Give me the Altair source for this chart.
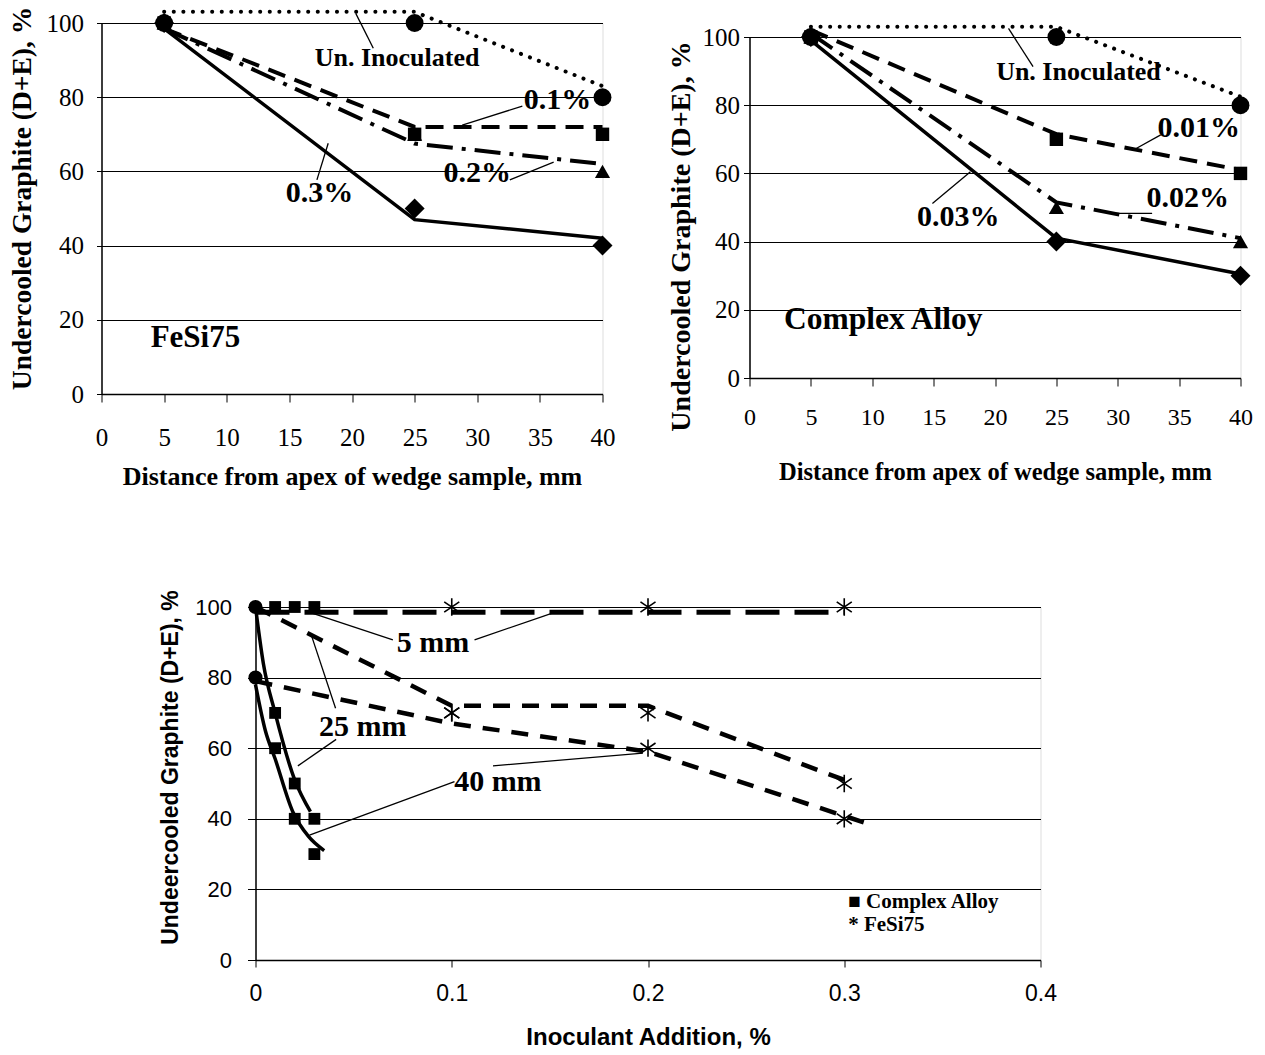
import altair as alt
import pandas as pd

SERIF = "Liberation Serif"
SANS = "Liberation Sans"
NARROW = "'Liberation Sans Narrow', 'Liberation Sans', sans-serif"

# ---------------- top panels: distance from apex (mm) ----------------
DIST = [5, 25, 40]
DIST_TICKS = [0, 5, 10, 15, 20, 25, 30, 35, 40]
PCT_TICKS = [0, 20, 40, 60, 80, 100]

# FeSi75 markers
FESI_UNINOC = [100, 100, 80]
FESI_01 = [100, 70, 70]
FESI_02 = [100, 70, 60]
FESI_03 = [100, 50, 40]
# FeSi75 lines as drawn
FESI_UNINOC_LINE = [103, 103, 83]
FESI_01_LINE = [98.5, 72, 72]
FESI_02_LINE = [98.5, 67.5, 62]
FESI_03_LINE = [98.5, 47, 42]

# Complex Alloy markers
CA_UNINOC = [100, 100, 80]
CA_001 = [100, 70, 60]
CA_002 = [100, 50, 40]
CA_003 = [100, 40, 30]
# Complex Alloy lines as drawn
CA_UNINOC_LINE = [103, 103, 82.5]
CA_001_LINE = [102, 71.5, 61]
CA_002_LINE = [101, 51.5, 41]
CA_003_LINE = [99, 41, 30.5]

# top-left annotations
TL_UN_TEXT = ["Un. Inoculated"]; TL_UN_X = [23.6]; TL_UN_Y = [90.6]
TL_PCT_TEXT = ["0.1%", "0.2%", "0.3%"]; TL_PCT_X = [36.4, 30.0, 17.4]; TL_PCT_Y = [79.2, 59.5, 54.2]
TL_NAME_TEXT = ["FeSi75"]; TL_NAME_X = [7.5]; TL_NAME_Y = [15.1]
TL_LEAD_X = [20.3, 28.8, 32.6, 17.2]
TL_LEAD_Y = [102.6, 72.5, 57.7, 57.7]
TL_LEAD_X2 = [21.7, 33.6, 36.1, 18.1]
TL_LEAD_Y2 = [93.2, 77.6, 62.5, 67.6]

# top-right annotations
TR_UN_TEXT = ["Un. Inoculated"]; TR_UN_X = [26.8]; TR_UN_Y = [89.8]
TR_PCT_TEXT = ["0.01%", "0.02%", "0.03%"]; TR_PCT_X = [36.6, 35.7, 17.0]; TR_PCT_Y = [73.2, 52.7, 47.3]
TR_NAME_TEXT = ["Complex Alloy"]; TR_NAME_X = [10.9]; TR_NAME_Y = [17.0]
TR_LEAD_X = [21.1, 31.5, 29.2, 14.9]
TR_LEAD_Y = [102.5, 67.3, 48.3, 51.2]
TR_LEAD_X2 = [23.1, 33.5, 32.8, 18.0]
TR_LEAD_Y2 = [91.3, 71.3, 48.3, 60.5]

# ---------------- bottom panel: inoculant addition (%) ----------------
ADD_TICKS = [0, 0.1, 0.2, 0.3, 0.4]
ADD_CA = [0.01, 0.02, 0.03]
ADD_FESI = [0.1, 0.2, 0.3]
CA_5MM = [100, 100, 100]
CA_25MM = [70, 50, 40]
CA_40MM = [60, 40, 30]
FESI_5MM = [100, 100, 100]
FESI_25MM = [70, 70, 50]
FESI_40MM = [70, 60, 40]
UNINOC_ADD = [0, 0]
UNINOC_VAL = [100, 80]

FESI_5MM_LINE_X = [0, 0.3]
FESI_5MM_LINE_Y = [98.5, 98.5]
FESI_25MM_LINE_X = [0, 0.1, 0.2, 0.3]
FESI_25MM_LINE_Y = [100, 72, 72, 51]
FESI_40MM_LINE_X = [0, 0.1, 0.2, 0.31]
FESI_40MM_LINE_Y = [79, 67, 59, 39]
CA_25MM_CURVE_X = [0, 0.004, 0.01, 0.02, 0.028]
CA_25MM_CURVE_Y = [100, 84, 70, 51, 42]
CA_40MM_CURVE_X = [0, 0.005, 0.01, 0.019, 0.027, 0.035]
CA_40MM_CURVE_Y = [78, 65, 57, 42, 35, 31]

B_TEXT = ["5 mm", "25 mm", "40 mm"]
B_TEXT_X = [0.0904, 0.0547, 0.1235]
B_TEXT_Y = [89.7, 66.1, 50.5]
B_LEAD_X = [0.0292, 0.1116, 0.0284, 0.0216, 0.0275, 0.121]
B_LEAD_Y = [98.2, 90.7, 92.1, 55, 35.4, 55]
B_LEAD_X2 = [0.07, 0.1524, 0.0408, 0.0411, 0.1014, 0.1974]
B_LEAD_Y2 = [90.7, 98.5, 71.3, 62.5, 50.5, 58.6]
LEGEND_TEXT = ["\u25a0 Complex Alloy", "* FeSi75"]
LEGEND_X = [0.302, 0.302]
LEGEND_Y = [16.4, 9.9]

ASTERISK = "M0,-1L0,1M-0.87,-0.6L0.87,0.6M-0.87,0.6L0.87,-0.6"


def df(xs, ys, **extra):
    d = {"x": xs, "y": ys}
    d.update(extra)
    return pd.DataFrame(d)


def make_panel(X, Y, lines, markers, rules, texts, width, height):
    layers = []
    for xs, ys, props in lines:
        layers.append(alt.Chart(df(xs, ys)).mark_line(color="black", **props).encode(x=X, y=Y))
    rx, ry, rx2, ry2 = rules
    layers.append(
        alt.Chart(df(rx, ry, x2=rx2, y2=ry2)).mark_rule(color="black", strokeWidth=1.3)
        .encode(x=X, y=Y, x2="x2:Q", y2="y2:Q")
    )
    for xs, ys, props in markers:
        layers.append(alt.Chart(df(xs, ys)).mark_point(color="black", opacity=1, **props).encode(x=X, y=Y))
    for xs, ys, ts, props in texts:
        layers.append(
            alt.Chart(df(xs, ys, t=ts)).mark_text(color="black", **props).encode(x=X, y=Y, text="t:N")
        )
    return alt.layer(*layers).properties(width=width, height=height)


# ---------------- top-left: FeSi75 ----------------
tl_x = alt.X("x:Q", scale=alt.Scale(domain=[0, 40], nice=False, zero=False),
             axis=alt.Axis(values=DIST_TICKS, title="Distance from apex of wedge sample, mm",
                           titleFont=SERIF, titleFontSize=26, titleFontWeight="bold", titleColor="black",
                           titlePadding=13, labelFont=SERIF, labelFontSize=25, labelColor="black",
                           labelPadding=23, tickSize=8, tickColor="black", domainColor="black",
                           domainWidth=1.5, grid=False, labelFlush=False))
tl_y = alt.Y("y:Q", scale=alt.Scale(domain=[0, 100], nice=False, zero=False),
             axis=alt.Axis(values=PCT_TICKS, title="Undercooled Graphite (D+E),  %",
                           titleFont=SERIF, titleFontSize=27.5, titleFontWeight="bold", titleColor="black",
                           titlePadding=10, titleY=175, labelFont=SERIF, labelFontSize=25, labelColor="black",
                           labelPadding=13, tickSize=5, tickColor="black", domainColor="black",
                           domainWidth=1.5, grid=True, gridColor="black", gridWidth=1))

TXT_UN = dict(font=SERIF, fontWeight="bold", fontSize=26, align="center", baseline="middle")
TXT_PCT = dict(font=SERIF, fontWeight="bold", fontSize=30, align="center", baseline="middle")
TXT_NAME = dict(font=SERIF, fontWeight="bold", fontSize=31, align="center", baseline="middle")

DOT = dict(strokeDash=[0.1, 9.5], strokeWidth=4, strokeCap="round")
DASH = dict(strokeDash=[18, 10], strokeWidth=4)
DASHDOT = dict(strokeDash=[26, 9, 4, 9], strokeWidth=4)
SOLID = dict(strokeWidth=3.5)

M_TRI = dict(shape="triangle-up", filled=True, size=230)
M_DIA = dict(shape="diamond", filled=True, size=400)
M_SQ = dict(shape="square", filled=True, size=180)
M_CIR = dict(shape="circle", filled=True, size=320)

tl = make_panel(
    tl_x, tl_y,
    lines=[(DIST, FESI_UNINOC_LINE, DOT), (DIST, FESI_01_LINE, DASH),
           (DIST, FESI_02_LINE, DASHDOT), (DIST, FESI_03_LINE, SOLID)],
    markers=[(DIST, FESI_02, M_TRI), (DIST, FESI_03, M_DIA),
             (DIST, FESI_01, M_SQ), (DIST, FESI_UNINOC, M_CIR)],
    rules=(TL_LEAD_X, TL_LEAD_Y, TL_LEAD_X2, TL_LEAD_Y2),
    texts=[(TL_UN_X, TL_UN_Y, TL_UN_TEXT, TXT_UN), (TL_PCT_X, TL_PCT_Y, TL_PCT_TEXT, TXT_PCT),
           (TL_NAME_X, TL_NAME_Y, TL_NAME_TEXT, TXT_NAME)],
    width=501, height=371,
)

# ---------------- top-right: Complex Alloy ----------------
tr_x = alt.X("x:Q", scale=alt.Scale(domain=[0, 40], nice=False, zero=False),
             axis=alt.Axis(values=DIST_TICKS, title="Distance from apex of wedge sample, mm",
                           titleFont=SERIF, titleFontSize=24.5, titleFontWeight="bold", titleColor="black",
                           titlePadding=31, labelFont=SERIF, labelFontSize=24, labelColor="black",
                           labelPadding=19, tickSize=8, tickColor="black", domainColor="black",
                           domainWidth=1.5, grid=False, labelFlush=False))
tr_y = alt.Y("y:Q", scale=alt.Scale(domain=[0, 100], nice=False, zero=False),
             axis=alt.Axis(values=PCT_TICKS, title="Undercooled Graphite (D+E),  %",
                           titleFont=SERIF, titleFontSize=28, titleFontWeight="bold", titleColor="black",
                           titlePadding=7, titleY=199, labelFont=SERIF, labelFontSize=25, labelColor="black",
                           labelPadding=4, tickSize=6, tickColor="black", domainColor="black",
                           domainWidth=1.5, grid=True, gridColor="black", gridWidth=1))

TXT_NAME_TR = dict(font=SERIF, fontWeight="bold", fontSize=31.5, align="center", baseline="middle")

tr = make_panel(
    tr_x, tr_y,
    lines=[(DIST, CA_UNINOC_LINE, DOT), (DIST, CA_001_LINE, DASH),
           (DIST, CA_002_LINE, DASHDOT), (DIST, CA_003_LINE, SOLID)],
    markers=[(DIST, CA_002, M_TRI), (DIST, CA_003, M_DIA),
             (DIST, CA_001, M_SQ), (DIST, CA_UNINOC, M_CIR)],
    rules=(TR_LEAD_X, TR_LEAD_Y, TR_LEAD_X2, TR_LEAD_Y2),
    texts=[(TR_UN_X, TR_UN_Y, TR_UN_TEXT, TXT_UN), (TR_PCT_X, TR_PCT_Y, TR_PCT_TEXT, TXT_PCT),
           (TR_NAME_X, TR_NAME_Y, TR_NAME_TEXT, TXT_NAME_TR)],
    width=491, height=341,
)

# ---------------- bottom: inoculant addition ----------------
b_x = alt.X("x:Q", scale=alt.Scale(domain=[0, 0.4], nice=False, zero=False),
            axis=alt.Axis(values=ADD_TICKS, format="~g", title="Inoculant Addition, %",
                          titleFont=SANS, titleFontSize=24, titleFontWeight="bold", titleColor="black",
                          titlePadding=20, labelFont=NARROW, labelFontSize=23, labelColor="black",
                          labelPadding=15, tickSize=7, tickColor="black", domainColor="black",
                          domainWidth=1.5, grid=False, labelFlush=False))
b_y = alt.Y("y:Q", scale=alt.Scale(domain=[0, 100], nice=False, zero=False),
            axis=alt.Axis(values=PCT_TICKS, title="Undeercooled Graphite (D+E), %",
                          titleFont=SANS, titleFontSize=23, titleFontWeight="bold", titleColor="black",
                          titlePadding=12, titleY=160, labelFont=SANS, labelFontSize=22, labelColor="black",
                          labelPadding=16, tickSize=8, tickColor="black", domainColor="black",
                          domainWidth=1.5, grid=True, gridColor="black", gridWidth=1))

BDASH_LONG = dict(strokeDash=[34, 15], strokeWidth=5)
BDASH = dict(strokeDash=[17, 12], strokeWidth=4.5)
BCURVE = dict(strokeWidth=3.5, interpolate="monotone")
TXT_MM = dict(font=SERIF, fontWeight="bold", fontSize=30, align="center", baseline="middle")
TXT_LEG = dict(font=SERIF, fontWeight="bold", fontSize=21, align="left", baseline="middle")
B_SQ = dict(shape="square", filled=True, size=140)
B_AST = dict(shape=ASTERISK, filled=False, size=300, strokeWidth=1.6)

bot = make_panel(
    b_x, b_y,
    lines=[(FESI_5MM_LINE_X, FESI_5MM_LINE_Y, BDASH_LONG),
           (FESI_25MM_LINE_X, FESI_25MM_LINE_Y, BDASH),
           (FESI_40MM_LINE_X, FESI_40MM_LINE_Y, BDASH),
           (CA_25MM_CURVE_X, CA_25MM_CURVE_Y, BCURVE),
           (CA_40MM_CURVE_X, CA_40MM_CURVE_Y, BCURVE)],
    markers=[(ADD_CA, CA_5MM, B_SQ), (ADD_CA, CA_25MM, B_SQ), (ADD_CA, CA_40MM, B_SQ),
             (ADD_FESI, FESI_5MM, B_AST), (ADD_FESI, FESI_25MM, B_AST), (ADD_FESI, FESI_40MM, B_AST),
             (UNINOC_ADD, UNINOC_VAL, dict(shape="circle", filled=True, size=200))],
    rules=(B_LEAD_X, B_LEAD_Y, B_LEAD_X2, B_LEAD_Y2),
    texts=[(B_TEXT_X, B_TEXT_Y, B_TEXT, TXT_MM), (LEGEND_X, LEGEND_Y, LEGEND_TEXT, TXT_LEG)],
    width=785, height=353,
)


def spacer(w, h):
    return alt.Chart(pd.DataFrame({"a": [0]})).mark_point(opacity=0).encode(
        x=alt.value(0), y=alt.value(0)
    ).properties(width=w, height=h, view=alt.ViewBackground(strokeOpacity=0))


top_row = alt.hconcat(tl, alt.vconcat(spacer(1, 14), tr, spacing=0, bounds="flush"),
                      spacing=147, bounds="flush")
bottom_row = alt.hconcat(spacer(154, 1), bot, spacing=0, bounds="flush")

chart = alt.vconcat(top_row, bottom_row, spacing=99).properties(
    padding={"left": 7.5, "top": 2, "right": 2, "bottom": 0}
).configure_view(stroke="black", strokeWidth=1).configure(background="white")

chart.save("out.html", embed_options={"renderer": "svg", "actions": False})
